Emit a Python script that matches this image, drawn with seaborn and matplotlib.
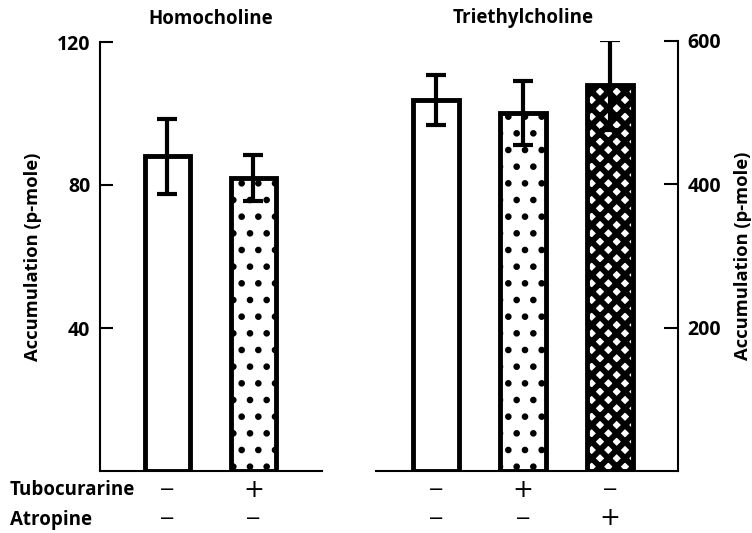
import pandas as pd
from matplotlib import pyplot as plt
import seaborn as sns

# values
homo_groups = ['Control', 'Tubocurarine']
homo_mean = [88, 82]
homo_err = [10.5, 6.5]

tri_groups = ['Control', 'Tubocurarine', 'Atropine']
tri_mean = [517, 499, 538]
tri_err = [35, 44, 63]

homo_tubo = ['\u2212', '+']
homo_atro = ['\u2212', '\u2212']
tri_tubo = ['\u2212', '+', '\u2212']
tri_atro = ['\u2212', '\u2212', '+']

hatches = ['', '.', 'xx']
hatch_lw = [1.0, 2.3, 4.2]

sns.set_style('ticks')
plt.rcParams['font.family'] = ['Open Sans', 'DejaVu Sans']
plt.rcParams['hatch.color'] = 'black'
plt.rcParams['hatch.linewidth'] = 1.0
for key in ['text.color', 'axes.labelcolor', 'axes.edgecolor',
            'xtick.color', 'ytick.color']:
    plt.rcParams[key] = 'black'

fig = plt.figure(figsize=(7.52, 5.33), dpi=100)
ax1 = fig.add_axes([100 / 752, 62 / 533, 222 / 752, 429 / 533])
ax2 = fig.add_axes([376 / 752, 62 / 533, 302 / 752, 430.5 / 533])


def draw_panel(ax, groups, mean, err, width):
    df = pd.DataFrame({'group': groups, 'mean': mean})
    sns.barplot(data=df, x='group', y='mean', order=groups, ax=ax,
                color='white', edgecolor='black', linewidth=3.5,
                width=width, errorbar=None, saturation=1)
    for patch, h, lw in zip(ax.patches, hatches, hatch_lw):
        patch.set_facecolor('white')
        patch.set_hatch(h)
        if hasattr(patch, 'set_hatch_linewidth'):
            patch.set_hatch_linewidth(lw)
    ax.errorbar(range(len(groups)), mean, yerr=err, fmt='none', ecolor='black',
                elinewidth=3, capsize=7, capthick=3, zorder=5)
    ax.set_xticks([])
    ax.set_xlabel('')
    ax.set_ylabel('Accumulation (p-mole)', fontsize=13.2, fontweight='bold')
    for s in ax.spines.values():
        s.set_linewidth(1.5)


# Homocholine
draw_panel(ax1, homo_groups, homo_mean, homo_err, 0.52)
ax1.set_xlim(-0.785, 1.797)
ax1.set_ylim(0, 120)
ax1.set_yticks([40, 80, 120])
ax1.spines['top'].set_visible(False)
ax1.spines['right'].set_visible(False)
ax1.tick_params(axis='y', direction='in', length=9, width=1.5, pad=7,
                labelsize=14)
ax1.yaxis.set_label_coords(-0.26, 0.5)
ax1.set_title('Homocholine', fontsize=13.5, fontweight='bold', pad=13)

# Triethylcholine
draw_panel(ax2, tri_groups, tri_mean, tri_err, 0.53)
ax2.set_xlim(-0.69, 2.78)
ax2.set_ylim(0, 600)
ax2.set_yticks([200, 400, 600])
ax2.spines['top'].set_visible(False)
ax2.spines['left'].set_visible(False)
ax2.yaxis.tick_right()
ax2.yaxis.set_label_position('right')
ax2.tick_params(axis='y', direction='in', length=10, width=1.5, pad=7,
                labelsize=14)
ax2.yaxis.set_label_coords(1.185, 0.5)
ax2.text(1, 1.052, 'Triethylcholine', transform=ax2.get_xaxis_transform(),
         ha='center', va='center', fontsize=13.5, fontweight='bold')

for lab in ax1.get_yticklabels() + ax2.get_yticklabels():
    lab.set_fontweight('bold')

# treatment rows under the bars
for ax, tubo, atro in [(ax1, homo_tubo, homo_atro), (ax2, tri_tubo, tri_atro)]:
    tr = ax.get_xaxis_transform()
    for i, (t, a) in enumerate(zip(tubo, atro)):
        for sign, yy in [(t, -0.044), (a, -0.11)]:
            ax.text(i, yy, sign, transform=tr, ha='center', va='center',
                    fontsize=18 if sign == '+' else 14, family='DejaVu Sans',
                    clip_on=False)

fig.text(10 / 752, 1 - 490 / 533, 'Tubocurarine', ha='left', va='center',
         fontsize=13.5, fontweight='bold')
fig.text(10 / 752, 1 - 520 / 533, 'Atropine', ha='left', va='center',
         fontsize=13.5, fontweight='bold')

fig.savefig('out.png', dpi=100)
